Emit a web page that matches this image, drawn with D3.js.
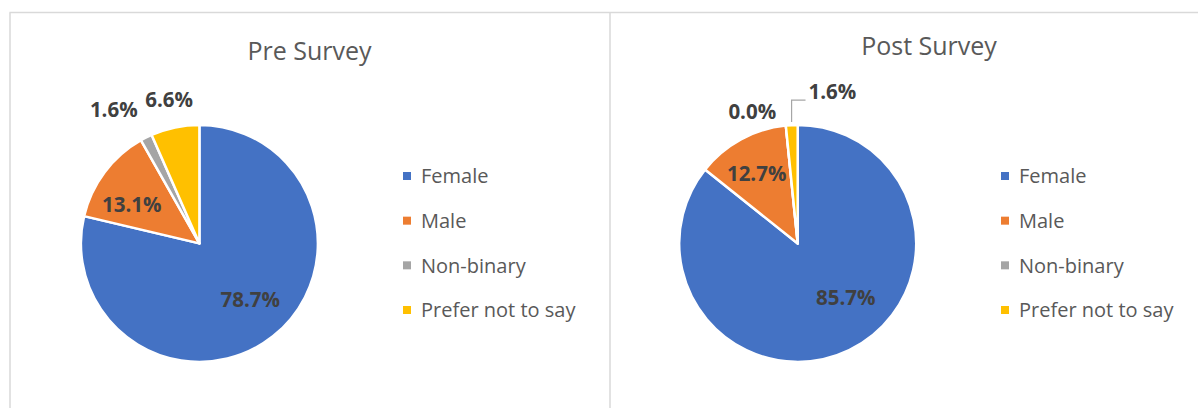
<!DOCTYPE html>
<html>
<head>
<meta charset="utf-8">
<script src="https://cdn.jsdelivr.net/npm/d3@7"></script>
<style>
  html, body { margin: 0; padding: 0; background: #fff; }
  svg { display: block; font-family: "Open Sans", "Noto Sans", sans-serif; }
</style>
</head>
<body>
<svg id="vis" width="1198" height="408"></svg>
<script>
// data
var categories = ["Female", "Male", "Non-binary", "Prefer not to say"];
var preValues = [78.7, 13.1, 1.6, 6.6];
var postValues = [85.7, 12.7, 0.0, 1.6];
var titles = ["Pre Survey", "Post Survey"];

var colors = d3.scaleOrdinal()
    .domain(categories)
    .range(["#4472C4", "#ED7D31", "#A5A5A5", "#FFC000"]);

var width = 1198,
    height = 408,
    radius = 118.5,
    svg = d3.select("#vis");

// panel frames (light grey, like the excel chart borders)
var frame = svg.append("g")
    .attr("stroke", "#d9d9d9")
    .attr("stroke-width", 1.5)
    .attr("fill", "none");
frame.append("line").attr("x1", 9.5).attr("x2", width).attr("y1", 12.5).attr("y2", 12.5);
frame.append("line").attr("x1", 10).attr("x2", 10).attr("y1", 12.5).attr("y2", height);
frame.append("line").attr("x1", 610).attr("x2", 610).attr("y1", 12.5).attr("y2", height);

// where each chart sits, and how its labels are nudged (angle shift in degrees, radius factor)
var panels = [
  { values: preValues, title: titles[0], cx: 199.4, cy: 243.4, titleX: 309.5, titleY: 60,
    legendX: 403, labels: [[-3.8, 0.64], [-6.8, 0.66], [-6, 1.34], [0, 1.24]], leader: [false, false, false, false] },
  { values: postValues, title: titles[1], cx: 797.7, cy: 243.4, titleX: 929, titleY: 55,
    legendX: 1001, labels: [[-16, 0.61], [-2, 0.68], [-13.2, 1.18], [15.8, 1.31]], leader: [false, false, false, true] }
];

var pie = d3.pie().sort(null).value(function(d) { return d.value; });
var arc = d3.arc().innerRadius(0).outerRadius(radius);
var fmt = function(v) { return d3.format(".1f")(v) + "%"; };

function polar(angle, r) {
  return [r * Math.sin(angle), -r * Math.cos(angle)];
}

panels.forEach(function(p) {
  var data = categories.map(function(c, i) { return { name: c, value: p.values[i] }; });
  var arcs = pie(data);

  svg.append("text")
      .attr("x", p.titleX)
      .attr("y", p.titleY)
      .attr("text-anchor", "middle")
      .style("font-size", "25px")
      .style("fill", "#595959")
      .text(p.title);

  var g = svg.append("g").attr("transform", "translate(" + p.cx + "," + p.cy + ")");

  g.selectAll("path")
    .data(arcs)
    .enter()
    .append("path")
      .attr("d", arc)
      .attr("fill", function(d) { return colors(d.data.name); })
      .attr("stroke", "#fff")
      .attr("stroke-width", 2.5)
      .attr("stroke-linejoin", "round");

  // data labels
  arcs.forEach(function(d, i) {
    var mid = (d.startAngle + d.endAngle) / 2;
    var lay = p.labels[i];
    var pos = polar(mid + lay[0] * Math.PI / 180, radius * lay[1]);
    var t = g.append("text")
        .attr("x", pos[0])
        .attr("y", pos[1])
        .attr("dy", "0.36em")
        .attr("text-anchor", "middle")
        .style("font-size", "20.5px")
        .style("font-weight", "bold")
        .style("fill", "#404040")
        .text(fmt(d.data.value));

    if (p.leader[i]) {
      var w = t.node().getComputedTextLength();
      var start = polar(mid, radius + 3);
      var elbowY = pos[1] + 8;
      g.append("path")
          .attr("d", "M" + start[0] + "," + start[1] + "V" + elbowY + "H" + (pos[0] - w / 2 - 3))
          .attr("fill", "none")
          .attr("stroke", "#a6a6a6")
          .attr("stroke-width", 1.2);
    }
  });

  // legend
  var legend = svg.append("g")
      .attr("transform", "translate(" + p.legendX + ",0)");
  var rowY = d3.scalePoint().domain(categories).range([176, 310]);

  var item = legend.selectAll("g")
    .data(categories)
    .enter()
    .append("g")
      .attr("transform", function(d) { return "translate(0," + rowY(d) + ")"; });

  item.append("rect")
      .attr("x", 0)
      .attr("y", -4)
      .attr("width", 8)
      .attr("height", 8)
      .attr("fill", function(d) { return colors(d); });

  item.append("text")
      .attr("x", 18)
      .attr("dy", "0.36em")
      .style("font-size", "20px")
      .style("fill", "#595959")
      .text(function(d) { return d; });
});
</script>
</body>
</html>
